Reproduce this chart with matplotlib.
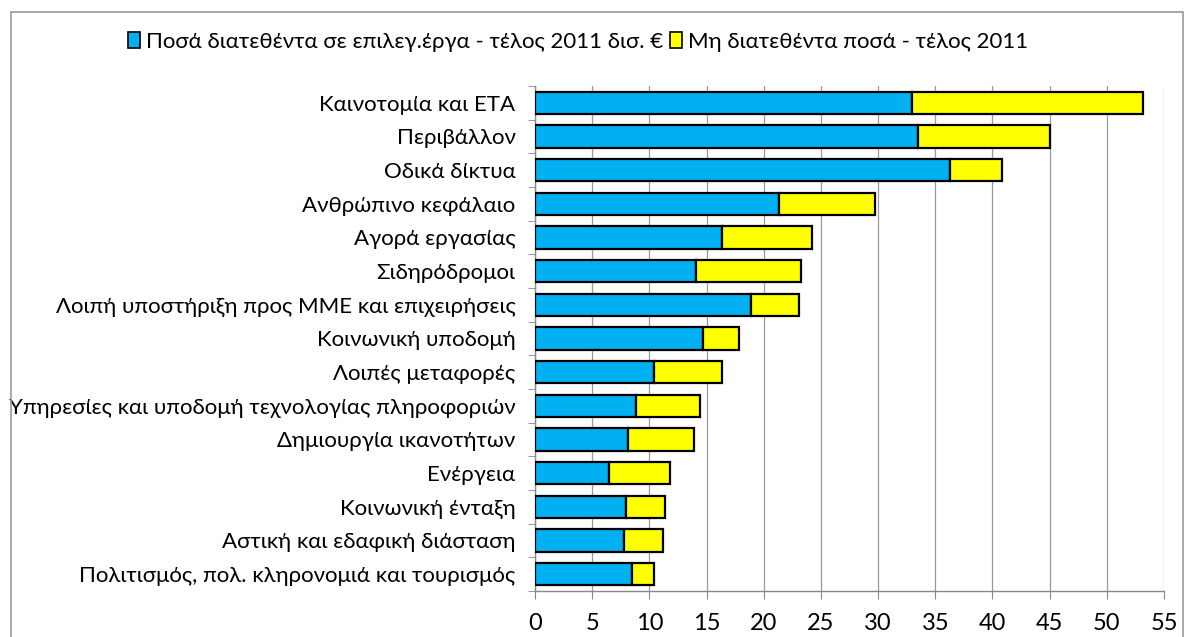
import matplotlib
matplotlib.use("Agg")
import matplotlib.pyplot as plt
from matplotlib.patches import Rectangle, Patch
import numpy as np

categories = [
    "Καινοτομία και ΕΤΑ",
    "Περιβάλλον",
    "Οδικά δίκτυα",
    "Ανθρώπινο κεφάλαιο",
    "Αγορά εργασίας",
    "Σιδηρόδρομοι",
    "Λοιπή υποστήριξη προς ΜΜΕ και επιχειρήσεις",
    "Κοινωνική υποδομή",
    "Λοιπές μεταφορές",
    "Υπηρεσίες και υποδομή τεχνολογίας πληροφοριών",
    "Δημιουργία ικανοτήτων",
    "Ενέργεια",
    "Κοινωνική ένταξη",
    "Αστική και εδαφική διάσταση",
    "Πολιτισμός, πολ. κληρονομιά και τουρισμός",
]
allocated = [33.0, 33.5, 36.25, 21.3, 16.35, 14.05, 18.9, 14.7, 10.4, 8.8, 8.15, 6.5, 8.0, 7.8, 8.5]
totals = [53.2, 45.05, 40.8, 29.7, 24.2, 23.25, 23.1, 17.8, 16.35, 14.4, 13.9, 11.8, 11.4, 11.2, 10.4]
unallocated = [t - a for t, a in zip(totals, allocated)]
xticks = list(range(0, 60, 5))

legend_labels = ["Ποσά διατεθέντα σε επιλεγ.έργα - τέλος 2011 δισ. €",
                 "Μη διατεθέντα ποσά - τέλος 2011"]

BLUE = "#00B0F0"
YELLOW = "#FFFF00"

plt.rcParams['font.family'] = ['Lato', 'DejaVu Sans']

fig = plt.figure(figsize=(11.87, 6.37), dpi=100)
fig.patches.append(Rectangle((11/1187, -0.1), (1183-11)/1187, 1 - 12/637 + 0.1,
                             transform=fig.transFigure, fill=False,
                             edgecolor="#999999", linewidth=1.2))

ax = fig.add_axes([535/1187, 1 - 591/637, (1164-535)/1187, (591-86)/637])
y = np.arange(len(categories))
ax.barh(y, allocated, height=0.667, color=BLUE, edgecolor="black", linewidth=1.6,
        label=legend_labels[0], zorder=3)
ax.barh(y, unallocated, left=allocated, height=0.667, color=YELLOW, edgecolor="black",
        linewidth=1.6, label=legend_labels[1], zorder=3)

ax.set_xlim(0, 55)
ax.set_ylim(len(categories) - 0.5, -0.5)
ax.set_xticks(xticks)
ax.set_xticklabels([str(t) for t in xticks], fontsize=17)
ax.set_yticks(y)
ax.set_yticklabels(categories, fontsize=16)
ax.set_yticks(np.arange(-0.5, len(categories)), minor=True)
ax.tick_params(axis='y', which='major', length=0, pad=14)
ax.tick_params(axis='y', which='minor', length=5, color="#888888", direction='out')
ax.tick_params(axis='x', length=6, color="#888888", direction='out', pad=10)
ax.grid(axis='x', color="#999999", linewidth=0.9, zorder=0)
for s in ['top', 'right']:
    ax.spines[s].set_visible(False)
for s in ['left', 'bottom']:
    ax.spines[s].set_color("#888888")
    ax.spines[s].set_linewidth(1.0)

handles = [Patch(facecolor=BLUE, edgecolor="black", linewidth=1.2),
           Patch(facecolor=YELLOW, edgecolor="black", linewidth=1.2)]
fig.legend(handles, legend_labels, loc='center', bbox_to_anchor=(578/1187, 1 - 42/637),
           ncol=2, frameon=False, fontsize=16, handlelength=0.55, handleheight=0.75,
           handletextpad=0.25, columnspacing=0.3)

fig.savefig("out.png", dpi=100)
